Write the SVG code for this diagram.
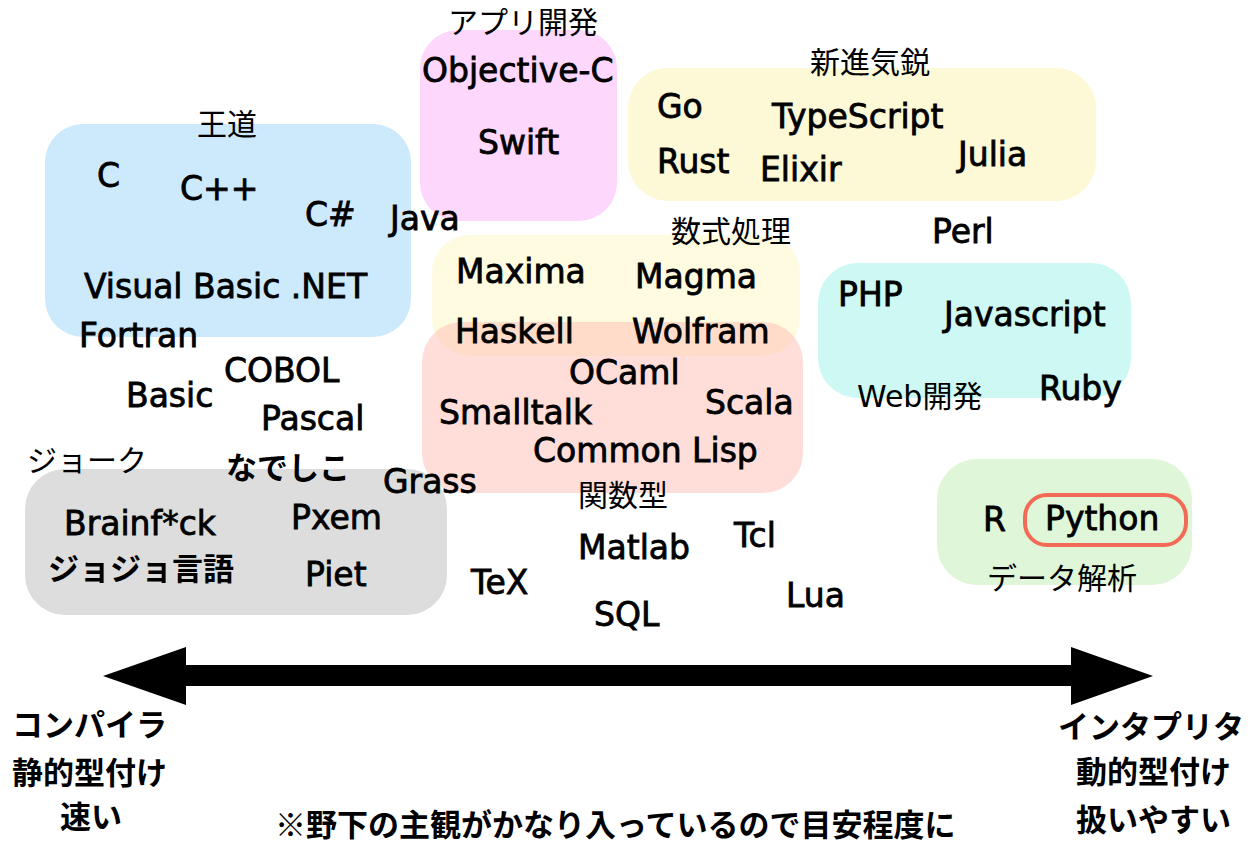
<svg xmlns="http://www.w3.org/2000/svg" width="1252" height="845" viewBox="0 0 1252 845">
<style>
.lang{font-family:"DejaVu Sans","Noto Sans CJK JP",sans-serif;font-size:33px;fill:#000;stroke:#000;stroke-width:0.8px}
.jb{font-family:"Noto Sans CJK JP",sans-serif;font-size:31px;font-weight:700;fill:#000}
.lbl{font-family:"DejaVu Sans","Noto Sans CJK JP",sans-serif;font-size:30px;fill:#000}
.lblj{font-family:"Noto Sans CJK JP",sans-serif;font-size:30px;fill:#000}
</style>
<rect width="1252" height="845" fill="#fff"/>
<g id="group-odo">
<rect x="45" y="124" width="366" height="213" rx="38" fill="#cceafc"/>
<text class="lblj" x="197" y="135">王道</text>
<text class="lang" x="97" y="187">C</text>
<text class="lang" x="180" y="200">C++</text>
<text class="lang" x="305" y="226">C#</text>
<text class="lang" x="84" y="298">Visual Basic .NET</text>
</g>
<g id="group-app">
<rect x="420" y="30" width="197" height="191" rx="38" fill="#fdd8fc"/>
<text class="lblj" x="448" y="33">アプリ開発</text>
<text class="lang" x="422" y="82">Objective-C</text>
<text class="lang" x="478" y="154">Swift</text>
</g>
<g id="group-new">
<rect x="628" y="68" width="468" height="133" rx="40" fill="#fdf8d6"/>
<text class="lblj" x="810" y="73">新進気鋭</text>
<text class="lang" x="657" y="118">Go</text>
<text class="lang" x="772" y="128">TypeScript</text>
<text class="lang" x="657" y="173">Rust</text>
<text class="lang" x="760" y="181">Elixir</text>
<text class="lang" x="958" y="166">Julia</text>
</g>
<g id="group-math">
<rect x="432" y="235" width="368" height="121" rx="38" fill="#fefbe0"/>
<text class="lblj" x="671" y="242">数式処理</text>
<text class="lang" x="456" y="283">Maxima</text>
<text class="lang" x="635" y="288">Magma</text>
</g>
<g id="group-func">
<rect x="422" y="322" width="381" height="171" rx="40" fill="#ffbeb4" fill-opacity="0.5"/>
<text class="lang" x="455" y="343">Haskell</text>
<text class="lang" x="632" y="343">Wolfram</text>
<text class="lang" x="569" y="384">OCaml</text>
<text class="lang" x="439" y="424">Smalltalk</text>
<text class="lang" x="705" y="414">Scala</text>
<text class="lang" x="533" y="462">Common Lisp</text>
<text class="lblj" x="578" y="506">関数型</text>
</g>
<g id="group-web">
<rect x="818" y="263" width="313" height="135" rx="40" fill="#cdf8f3"/>
<text class="lang" x="838" y="306">PHP</text>
<text class="lang" x="944" y="326">Javascript</text>
<text class="lbl" x="857" y="407">Web開発</text>
<text class="lang" x="1039" y="400">Ruby</text>
</g>
<g id="group-data">
<rect x="937" y="459" width="255" height="126" rx="40" fill="#dff6d8"/>
<text class="lang" x="983" y="531">R</text>
<rect x="1025" y="495" width="161" height="50" rx="22" fill="none" stroke="#f26b56" stroke-width="4"/>
<text class="lang" x="1045" y="530">Python</text>
<text class="lblj" x="987" y="589">データ解析</text>
</g>
<g id="group-joke">
<rect x="25" y="469" width="422" height="146" rx="40" fill="#dddddd"/>
<text class="lblj" x="27" y="471">ジョーク</text>
<text class="lang" x="64" y="535">Brainf*ck</text>
<text class="lang" x="291" y="529">Pxem</text>
<text class="jb" x="48" y="580">ジョジョ言語</text>
<text class="lang" x="305" y="586">Piet</text>
</g>
<g id="others">
<text class="lang" x="390" y="230">Java</text>
<text class="lang" x="79" y="347">Fortran</text>
<text class="lang" x="224" y="382">COBOL</text>
<text class="lang" x="126" y="407">Basic</text>
<text class="lang" x="261" y="430">Pascal</text>
<text class="lang" x="932" y="243">Perl</text>
<text class="jb" x="226" y="479">なでしこ</text>
<text class="lang" x="383" y="493">Grass</text>
<text class="lang" x="471" y="594">TeX</text>
<text class="lang" x="578" y="559">Matlab</text>
<text class="lang" x="594" y="626">SQL</text>
<text class="lang" x="734" y="547">Tcl</text>
<text class="lang" x="786" y="607">Lua</text>
</g>
<g id="connectors">
<polygon points="103,676 186,647 186,665 1071,665 1071,647 1153,676 1071,705 1071,686 186,686 186,705" fill="#000"/>
</g>
<g id="axis-labels">
<text class="jb" x="12" y="736">コンパイラ</text>
<text class="jb" x="12" y="784">静的型付け</text>
<text class="jb" x="60" y="828">速い</text>
<text class="jb" x="1058" y="738">インタプリタ</text>
<text class="jb" x="1076" y="783">動的型付け</text>
<text class="jb" x="1076" y="831">扱いやすい</text>
<text class="jb" x="275" y="836">※野下の主観がかなり入っているので目安程度に</text>
</g>
</svg>
